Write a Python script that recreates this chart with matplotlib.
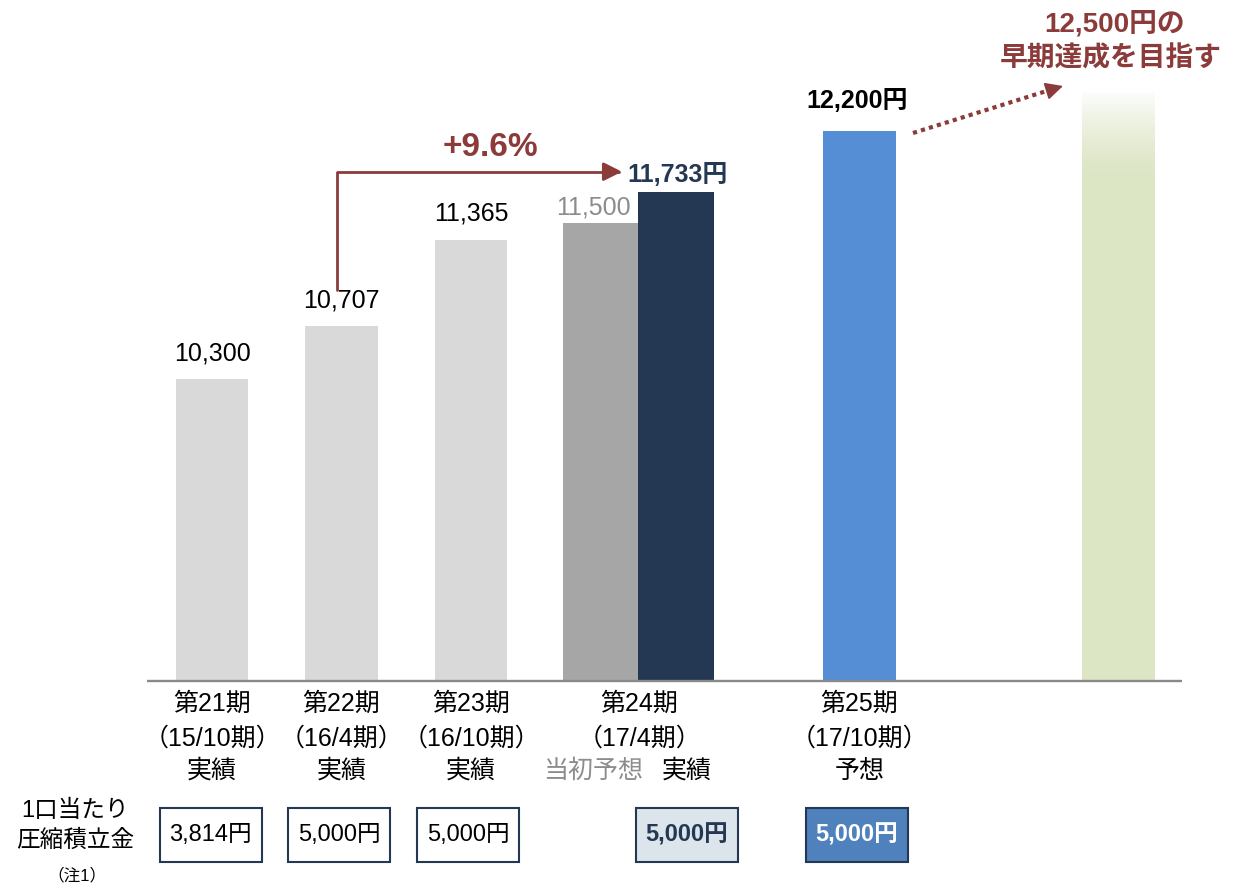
import numpy as np
import matplotlib
matplotlib.use("Agg")
import matplotlib.pyplot as plt
from matplotlib.patches import Rectangle

plt.rcParams["font.family"] = ["Liberation Sans", "Noto Sans CJK JP"]

# ---- data ----
periods = ["第21期", "第22期", "第23期", "第24期", "第25期"]
terms = ["（15/10期）", "（16/4期）", "（16/10期）", "（17/4期）", "（17/10期）"]
kinds = ["実績", "実績", "実績", "実績", "予想"]
past_values = [10300, 10707, 11365]
plan_24 = 11500
actual_24 = 11733
forecast_25 = 12200
target = 12500
growth = "+9.6%"
reserve = [3814, 5000, 5000, 5000, 5000]

# ---- layout, in pixels of the 1233x884 picture ----
W, H = 1233, 884
step = 129.5      # px per x unit
x0_px = 212       # px of x = 0
base_px = 680.5   # px of the baseline
k = 0.13046       # px per yen
base = 7990       # value at the baseline


def xu(p):
    return (p - x0_px) / step


def yv(p):
    return base + (base_px - p) / k


navy = "#243853"
brown = "#8C3B3B"

fig = plt.figure(figsize=(W / 100, H / 100), dpi=100)
ax = fig.add_axes([0, 0, 1, 1])

# bars
past_x = [0, 1, 2]
ax.bar(past_x, np.array(past_values) - base, bottom=base, width=0.556, color="#D9D9D9", zorder=2)
ax.bar(3.0, plan_24 - base, bottom=base, width=0.585, color="#A6A6A6", zorder=2)
ax.bar(3.585, actual_24 - base, bottom=base, width=0.587, color=navy, zorder=2)
ax.bar(5, forecast_25 - base, bottom=base, width=0.558, color="#558ED5", zorder=2)
ax.bar(7, target - base, bottom=base, width=0.564, color="#DCE5C4", zorder=2)

# fade the top of the target bar into white
fade = 700
grad = np.ones((200, 1, 4))
grad[:, 0, 3] = np.linspace(0.97, 0, 200) ** 1.5
ax.imshow(grad, extent=(7 - 0.285, 7 + 0.285, target - fade, target + 5),
          aspect="auto", origin="upper", interpolation="bilinear", zorder=3)

# baseline
ax.plot([xu(146.7), xu(1181.7)], [base, base], color="#898989", lw=1.7,
        solid_capstyle="butt", zorder=4)

ax.set_xlim(xu(0), xu(W))
ax.set_ylim(yv(H), yv(0))
ax.axis("off")

# value labels
lab_x = past_x + [3.0, 3.585, 5]
lab_v = past_values + [plan_24, actual_24, forecast_25]
lab_t = [f"{v:,}" for v in past_values] + [f"{plan_24:,}", f"{actual_24:,}円", f"{forecast_25:,}円"]
lab_c = ["black", "black", "black", "#8C8C8C", navy, "black"]
lab_w = ["normal"] * 4 + ["bold", "bold"]
lab_off = [(0, 19), (0, 19), (0, 20), (-7, 8), (1, 10), (-2, 23)]
for x, v, t, c, w, off in zip(lab_x, lab_v, lab_t, lab_c, lab_w, lab_off):
    ax.annotate(t, (x, v), xytext=off, textcoords="offset pixels", ha="center",
                va="baseline", fontsize=18, color=c, fontweight=w)

# growth arrow
ax.annotate("", xy=(xu(622), yv(171.7)), xytext=(xu(336.7), yv(290)),
            arrowprops=dict(arrowstyle="-|>,head_length=0.8,head_width=0.4",
                            connectionstyle="angle,angleA=90,angleB=0,rad=0",
                            color=brown, lw=2, mutation_scale=14,
                            shrinkA=0, shrinkB=0))
ax.text(xu(490), yv(147.5), growth, ha="center", va="center", fontsize=24,
        fontweight="bold", color=brown)

# target message and dotted arrow
ax.plot([xu(913), xu(1052)], [yv(133), yv(89.3)], color=brown, lw=3,
        linestyle=(0, (1, 1)), dash_capstyle="butt")
ax.annotate("", xy=(xu(1063), yv(86)), xytext=(xu(1050), yv(90)),
            arrowprops=dict(arrowstyle="-|>,head_length=0.9,head_width=0.45",
                            color=brown, lw=1.2, mutation_scale=12,
                            shrinkA=0, shrinkB=0))
ax.text(xu(1115), yv(24), f"{target:,}円の", ha="center", va="center",
        fontsize=20, fontweight="bold", color=brown)
ax.text(xu(1111), yv(59), "早期達成を目指す", ha="center", va="center",
        fontsize=20, fontweight="bold", color=brown)

# category labels
cat_x = [0, 1, 2, 3.3, 5]
for i, x in enumerate(cat_x):
    ax.text(x, yv(704), periods[i], ha="center", va="center", fontsize=18)
    ax.text(x, yv(739), terms[i], ha="center", va="center", fontsize=18)
    if i == 3:
        ax.text(xu(593), yv(771), "当初予想", ha="center", va="center",
                fontsize=18, color="#8C8C8C")
        ax.text(xu(687), yv(771), kinds[i], ha="center", va="center", fontsize=18)
    else:
        ax.text(x, yv(771), kinds[i], ha="center", va="center", fontsize=18)

# reserve per unit boxes
ax.text(xu(75), yv(811), "1口当たり", ha="center", va="center", fontsize=17)
ax.text(xu(75), yv(841), "圧縮積立金", ha="center", va="center", fontsize=17)
ax.text(xu(77), yv(875), "（注1）", ha="center", va="center", fontsize=12)

box_cx = [210.5, 339, 468, 687, 857]
box_fill = ["white", "white", "white", "#DCE4EC", "#4F81BD"]
box_tc = ["black", "black", "black", navy, "white"]
box_w = ["normal", "normal", "normal", "bold", "bold"]
for cx, r, f, tc, w in zip(box_cx, reserve, box_fill, box_tc, box_w):
    ax.add_patch(Rectangle((xu(cx - 51), yv(862)), 102 / step, 54 / k,
                           facecolor=f, edgecolor=navy, lw=1.5, zorder=3))
    ax.text(xu(cx), yv(835), f"{r:,}円", ha="center", va="center",
            fontsize=17, color=tc, fontweight=w, zorder=4)

fig.savefig("out.png", dpi=100)
